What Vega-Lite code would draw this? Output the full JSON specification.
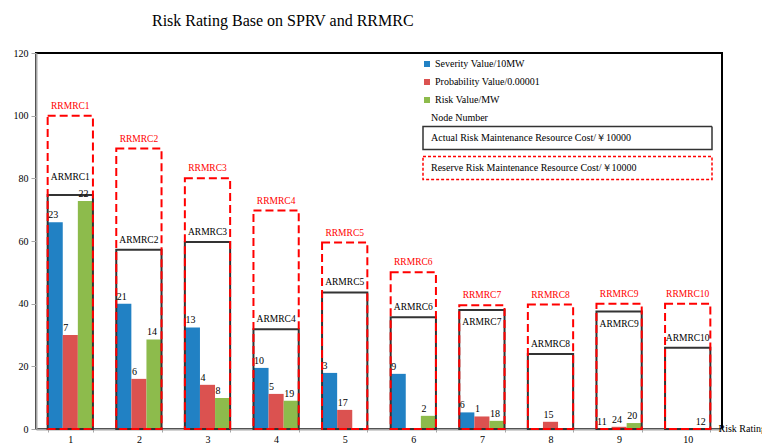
{
  "$schema": "https://vega.github.io/schema/vega-lite/v6.json",
  "width": 686,
  "height": 376,
  "autosize": {"type": "none"},
  "padding": {"left": 36, "top": 53, "right": 40, "bottom": 14},
  "background": "white",
  "config": {
    "font": "Liberation Serif",
    "view": {"stroke": "#000000", "strokeWidth": 2},
    "axis": {"grid": false, "labelFont": "Liberation Serif", "labelFontSize": 10, "labelColor": "#000000", "domainColor": "#a6a6a6", "domainWidth": 2, "tickColor": "#a6a6a6", "titleFont": "Liberation Serif", "titleFontWeight": "normal", "titleFontSize": 10, "titleColor": "#000000"},
    "legend": {"labelFont": "Liberation Serif", "labelFontSize": 10, "labelColor": "#000000", "titleFont": "Liberation Serif", "titleFontSize": 10, "titleFontWeight": "normal", "titleColor": "#000000", "padding": 0, "labelLimit": 0}
  },
  "title": {"text": "Risk Rating Base on SPRV and RRMRC", "font": "Liberation Serif", "fontSize": 16, "fontWeight": "normal", "color": "#000000", "anchor": "start", "frame": "group", "dx": 116, "offset": 19},
  "datasets": {
    "bars": [
      {"node": 1, "series": "Severity Value/10MW", "value": 66, "lab": "23"},
      {"node": 1, "series": "Probability Value/0.00001", "value": 30, "lab": "7"},
      {"node": 1, "series": "Risk Value/MW", "value": 72.8, "lab": "22"},
      {"node": 2, "series": "Severity Value/10MW", "value": 40, "lab": "21"},
      {"node": 2, "series": "Probability Value/0.00001", "value": 16, "lab": "6"},
      {"node": 2, "series": "Risk Value/MW", "value": 28.6, "lab": "14"},
      {"node": 3, "series": "Severity Value/10MW", "value": 32.4, "lab": "13"},
      {"node": 3, "series": "Probability Value/0.00001", "value": 14.1, "lab": "4"},
      {"node": 3, "series": "Risk Value/MW", "value": 9.9, "lab": "8"},
      {"node": 4, "series": "Severity Value/10MW", "value": 19.5, "lab": "10"},
      {"node": 4, "series": "Probability Value/0.00001", "value": 11.2, "lab": "5"},
      {"node": 4, "series": "Risk Value/MW", "value": 9, "lab": "19"},
      {"node": 5, "series": "Severity Value/10MW", "value": 17.9, "lab": "3"},
      {"node": 5, "series": "Probability Value/0.00001", "value": 6.1, "lab": "17"},
      {"node": 5, "series": "Risk Value/MW", "value": 0, "lab": null},
      {"node": 6, "series": "Severity Value/10MW", "value": 17.6, "lab": "9"},
      {"node": 6, "series": "Probability Value/0.00001", "value": 0, "lab": null},
      {"node": 6, "series": "Risk Value/MW", "value": 4.2, "lab": "2"},
      {"node": 7, "series": "Severity Value/10MW", "value": 5.3, "lab": "6"},
      {"node": 7, "series": "Probability Value/0.00001", "value": 4, "lab": "1"},
      {"node": 7, "series": "Risk Value/MW", "value": 2.6, "lab": "18"},
      {"node": 8, "series": "Severity Value/10MW", "value": 0, "lab": null},
      {"node": 8, "series": "Probability Value/0.00001", "value": 2.3, "lab": "15"},
      {"node": 8, "series": "Risk Value/MW", "value": 0, "lab": null},
      {"node": 9, "series": "Severity Value/10MW", "value": 0, "lab": "11"},
      {"node": 9, "series": "Probability Value/0.00001", "value": 0.7, "lab": "24"},
      {"node": 9, "series": "Risk Value/MW", "value": 1.9, "lab": "20"},
      {"node": 10, "series": "Severity Value/10MW", "value": 0, "lab": null},
      {"node": 10, "series": "Probability Value/0.00001", "value": 0, "lab": null},
      {"node": 10, "series": "Risk Value/MW", "value": 0, "lab": "12"}
    ],
    "boxes": [
      {"node": 1, "type": "Actual Risk Maintenance Resource Cost/￥10000", "cost": 74.7, "tag": "ARMRC1"},
      {"node": 2, "type": "Actual Risk Maintenance Resource Cost/￥10000", "cost": 57.2, "tag": "ARMRC2"},
      {"node": 3, "type": "Actual Risk Maintenance Resource Cost/￥10000", "cost": 59.7, "tag": "ARMRC3"},
      {"node": 4, "type": "Actual Risk Maintenance Resource Cost/￥10000", "cost": 31.8, "tag": "ARMRC4"},
      {"node": 5, "type": "Actual Risk Maintenance Resource Cost/￥10000", "cost": 43.6, "tag": "ARMRC5"},
      {"node": 6, "type": "Actual Risk Maintenance Resource Cost/￥10000", "cost": 35.7, "tag": "ARMRC6"},
      {"node": 7, "type": "Actual Risk Maintenance Resource Cost/￥10000", "cost": 38, "tag": "ARMRC7"},
      {"node": 8, "type": "Actual Risk Maintenance Resource Cost/￥10000", "cost": 23.9, "tag": "ARMRC8"},
      {"node": 9, "type": "Actual Risk Maintenance Resource Cost/￥10000", "cost": 37.5, "tag": "ARMRC9"},
      {"node": 10, "type": "Actual Risk Maintenance Resource Cost/￥10000", "cost": 25.9, "tag": "ARMRC10"},
      {"node": 1, "type": "Reserve Risk Maintenance Resource Cost/￥10000", "cost": 100, "tag": "RRMRC1"},
      {"node": 2, "type": "Reserve Risk Maintenance Resource Cost/￥10000", "cost": 89.5, "tag": "RRMRC2"},
      {"node": 3, "type": "Reserve Risk Maintenance Resource Cost/￥10000", "cost": 80, "tag": "RRMRC3"},
      {"node": 4, "type": "Reserve Risk Maintenance Resource Cost/￥10000", "cost": 69.7, "tag": "RRMRC4"},
      {"node": 5, "type": "Reserve Risk Maintenance Resource Cost/￥10000", "cost": 59.5, "tag": "RRMRC5"},
      {"node": 6, "type": "Reserve Risk Maintenance Resource Cost/￥10000", "cost": 50, "tag": "RRMRC6"},
      {"node": 7, "type": "Reserve Risk Maintenance Resource Cost/￥10000", "cost": 39.5, "tag": "RRMRC7"},
      {"node": 8, "type": "Reserve Risk Maintenance Resource Cost/￥10000", "cost": 39.7, "tag": "RRMRC8"},
      {"node": 9, "type": "Reserve Risk Maintenance Resource Cost/￥10000", "cost": 40, "tag": "RRMRC9"},
      {"node": 10, "type": "Reserve Risk Maintenance Resource Cost/￥10000", "cost": 40, "tag": "RRMRC10"}
    ]
  },
  "encoding": {
    "x": {"field": "node", "type": "ordinal", "scale": {"paddingInner": 0.34, "paddingOuter": 0.17},
      "axis": {"title": "Risk Rating", "labelAngle": 0, "tickBand": "extent", "tickSize": 3, "labelPadding": 2, "titleX": 682, "titleY": 2, "titleAlign": "left", "titleBaseline": "alphabetic", "titleAnchor": "start"}}
  },
  "layer": [
    {
      "data": {"name": "bars"},
      "mark": {"type": "bar", "strokeWidth": 0},
      "encoding": {
        "xOffset": {"field": "series", "type": "nominal", "scale": {"domain": ["Severity Value/10MW", "Probability Value/0.00001", "Risk Value/MW"], "paddingInner": 0, "paddingOuter": 0}},
        "y": {"field": "value", "type": "quantitative", "stack": null, "scale": {"domain": [0, 120], "nice": false},
          "axis": {"title": null, "values": [0, 20, 40, 60, 80, 100, 120], "tickSize": 5, "labelPadding": 3}},
        "color": {"field": "series", "type": "nominal",
          "scale": {"domain": ["Severity Value/10MW", "Probability Value/0.00001", "Risk Value/MW"], "range": ["#2181c4", "#db5250", "#8dbb4c"]},
          "legend": {"orient": "none", "legendX": 386, "legendY": 6, "title": null, "symbolType": "square", "symbolSize": 36, "symbolStrokeWidth": 0, "rowPadding": 8, "labelOffset": 3}}
      }
    },
    {
      "data": {"name": "boxes"},
      "transform": [{"filter": "datum.type == 'Actual Risk Maintenance Resource Cost/￥10000'"}],
      "mark": {"type": "bar", "filled": false, "strokeWidth": 2},
      "encoding": {
        "y": {"field": "cost", "type": "quantitative", "stack": null},
        "stroke": {"field": "type", "type": "nominal",
          "scale": {"domain": ["Actual Risk Maintenance Resource Cost/￥10000", "Reserve Risk Maintenance Resource Cost/￥10000"], "range": ["#333333", "#ff0000"]},
          "legend": {"orient": "none", "legendX": 385, "legendY": 60, "title": "\u200b\u2003Node Number", "titlePadding": 2, "symbolType": "M-1,-0.08H1V0.08H-1Z", "symbolSize": 83521, "clipHeight": 26, "rowPadding": 4, "labelOffset": -282, "symbolOffset": 1, "symbolStrokeWidth": 1.5, "symbolFillColor": "transparent",
            "labelExpr": "datum.label + '\u2003\u2003\u2003\u2003\u2003\u2003\u2003\u2003\u2003\u200b'"}}
      }
    },
    {
      "data": {"name": "boxes"},
      "transform": [{"filter": "datum.type == 'Reserve Risk Maintenance Resource Cost/￥10000'"}],
      "mark": {"type": "bar", "filled": false, "strokeWidth": 2, "strokeDash": [8, 4]},
      "encoding": {
        "y": {"field": "cost", "type": "quantitative", "stack": null},
        "stroke": {"field": "type", "type": "nominal"}
      }
    },
    {
      "data": {"name": "boxes"},
      "mark": {"type": "bar", "filled": false, "strokeWidth": 0},
      "encoding": {
        "y": {"field": "cost", "type": "quantitative", "stack": null},
        "stroke": {"field": "type", "type": "nominal"},
        "strokeDash": {"field": "type", "type": "nominal",
          "scale": {"domain": ["Actual Risk Maintenance Resource Cost/￥10000", "Reserve Risk Maintenance Resource Cost/￥10000"], "range": [[1, 0], [3, 2]]},
          "legend": {"orient": "none", "legendX": 385, "legendY": 60, "title": "\u200b\u2003Node Number", "titlePadding": 2, "symbolType": "M-1,-0.08H1V0.08H-1Z", "symbolSize": 83521, "clipHeight": 26, "rowPadding": 4, "labelOffset": -282, "symbolOffset": 1, "symbolStrokeWidth": 1.5, "symbolFillColor": "transparent",
            "labelExpr": "datum.label + '\u2003\u2003\u2003\u2003\u2003\u2003\u2003\u2003\u2003\u200b'"}}
      }
    },
    {
      "data": {"name": "bars"},
      "transform": [{"filter": "isValid(datum.lab)"}],
      "mark": {"type": "text", "align": "left", "baseline": "bottom", "dx": -7, "dy": -2, "fontSize": 10, "font": "Liberation Serif", "color": "#000000"},
      "encoding": {
        "xOffset": {"field": "series", "type": "nominal"},
        "y": {"field": "value", "type": "quantitative"},
        "text": {"field": "lab"}
      }
    },
    {
      "data": {"name": "boxes"},
      "transform": [{"filter": "datum.type == 'Reserve Risk Maintenance Resource Cost/￥10000'"}],
      "mark": {"type": "text", "baseline": "bottom", "dy": -5, "fontSize": 9.5, "font": "Liberation Serif", "color": "#ff0000"},
      "encoding": {
        "y": {"field": "cost", "type": "quantitative"},
        "text": {"field": "tag"}
      }
    },
    {
      "data": {"name": "boxes"},
      "transform": [{"filter": "datum.type == 'Actual Risk Maintenance Resource Cost/￥10000' && datum.node != 7 && datum.node != 9 && datum.node != 1"}],
      "mark": {"type": "text", "baseline": "bottom", "dy": -5, "fontSize": 9.5, "font": "Liberation Serif", "color": "#000000"},
      "encoding": {
        "y": {"field": "cost", "type": "quantitative"},
        "text": {"field": "tag"}
      }
    },
    {
      "data": {"name": "boxes"},
      "transform": [{"filter": "datum.type == 'Actual Risk Maintenance Resource Cost/￥10000' && datum.node == 1"}],
      "mark": {"type": "text", "baseline": "bottom", "dy": -13, "fontSize": 9.5, "font": "Liberation Serif", "color": "#000000"},
      "encoding": {
        "y": {"field": "cost", "type": "quantitative"},
        "text": {"field": "tag"}
      }
    },
    {
      "data": {"name": "boxes"},
      "transform": [{"filter": "datum.type == 'Actual Risk Maintenance Resource Cost/￥10000' && (datum.node == 7 || datum.node == 9)"}],
      "mark": {"type": "text", "baseline": "top", "dy": 7, "fontSize": 9.5, "font": "Liberation Serif", "color": "#000000"},
      "encoding": {
        "y": {"field": "cost", "type": "quantitative"},
        "text": {"field": "tag"}
      }
    }
  ]
}
